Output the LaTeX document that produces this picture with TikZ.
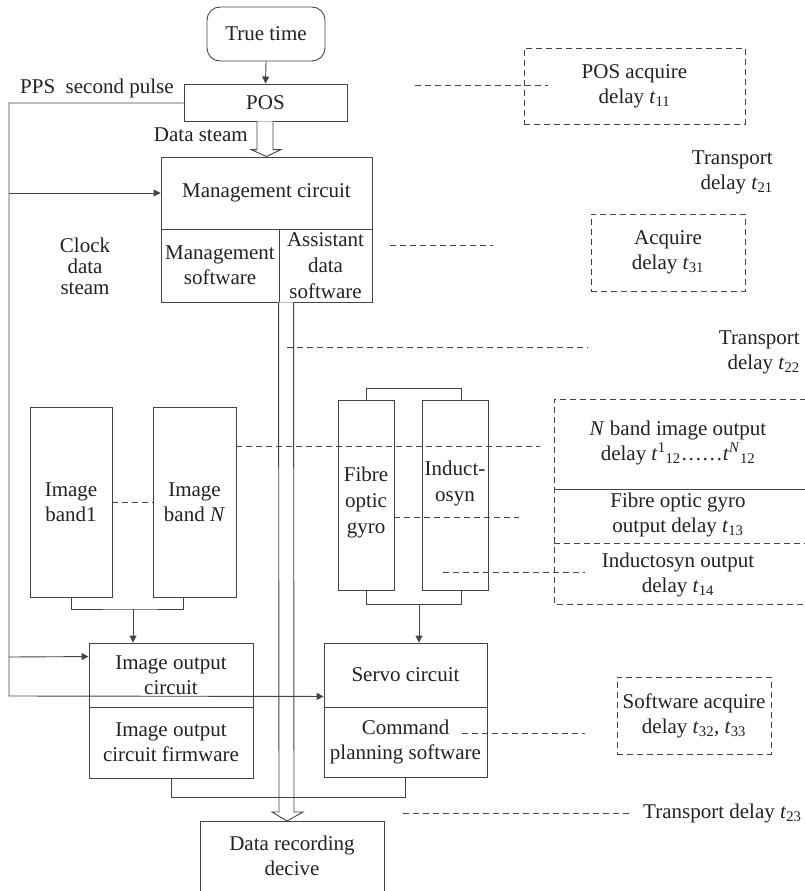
\documentclass[tikz,border=0pt]{standalone}
\usepackage{fontspec}
\setmainfont{Liberation Serif}
\usetikzlibrary{arrows.meta,calc}
\newcommand{\tdl}[1]{\textit{t}\textsubscript{#1}}
\definecolor{ln}{HTML}{444444}
\definecolor{tx}{HTML}{222222}
\begin{document}
\begin{tikzpicture}[x=1pt,y=-1pt,
  every node/.style={font=\fontsize{21}{25}\selectfont,text=tx,inner sep=0pt,align=center},
  box/.style={draw=ln,line width=0.9pt,minimum width=#1},
  dbox/.style={draw=ln,line width=0.9pt,dash pattern=on 6pt off 4pt},
  ln/.style={draw=ln,line width=0.9pt},
  dl/.style={draw=ln,line width=0.8pt,dash pattern=on 6pt off 4pt},
  arr/.style={ln,-{Triangle[length=7pt,width=7pt]}}]
\useasboundingbox (0,0) rectangle (805,891);
\fill[white] (0,0) rectangle (805,891);

% main boxes
\node[box=118pt,minimum height=54pt,rounded corners=13pt] (tt) at (266,34) {True time};
\node[box=163pt,minimum height=37pt] (pos) at (265.5,102.5) {POS};
\node[box=211pt,minimum height=72pt] (mgmtc) at (266.5,193) {Management circuit};
\node[box=118pt,minimum height=73pt] (msw) at (220,265.5) {Management\\software};
\node[box=93pt,minimum height=73pt,font=\fontsize{21}{26}\selectfont] (asw) at (325.5,265.5) {Assistant\\data\\software};

\node[box=82pt,minimum height=190pt] (band1) at (71,502) {Image\\band1};
\node[box=83pt,minimum height=190pt] (bandN) at (194.5,502) {Image\\band \textit{N}};
\node[box=56pt,minimum height=190pt] (fog) at (366,495) {};
\node[font=\fontsize{21}{26}\selectfont] (fogt) at (366,502) {Fibre\\optic\\gyro};
\node[box=66pt,minimum height=190pt] (ind) at (455,495) {};
\node[font=\fontsize{21}{26}\selectfont] (indt) at (455,483) {Induct-\\osyn};

\node[box=164pt,minimum height=64pt] (imgout) at (171,675) {Image output\\circuit};
\node[box=164pt,minimum height=71pt] (imgfw) at (171,742.5) {Image output\\circuit firmware};
\node[box=163pt,minimum height=64pt] (servo) at (405.5,675) {Servo circuit};
\node[box=163pt,minimum height=70pt] (cmd) at (405.5,742) {Command\\planning software};

% data recording device (open at bottom)
\coordinate (drtl) at (200,821);
\coordinate (drtr) at (384,821);
\draw[ln] (drtl|-0,892) -- (drtl) -- (drtr) -- (drtr|-0,892);
\node (dr) at (292,855.5) {Data recording\\decive};

% dashed annotation boxes
\node[dbox,minimum width=221pt,minimum height=76pt] (posacq) at (634.5,86) {POS acquire\\delay \tdl{11}};
\node[dbox,minimum width=154pt,minimum height=77pt] (acq) at (668,252.5) {Acquire\\delay \tdl{31}};
\node[dbox,minimum width=154pt,minimum height=77pt] (swacq) at (694,715.5) {Software acquire\\delay \tdl{32}, \tdl{33}};

% right big box
\coordinate (rb1) at (554,399);
\coordinate (rb2) at (554,604);
\draw[dbox] (806,399) -- (rb1) -- (rb2) -- (806,604);
\draw[ln] (rb1|-0,489) -- (806,489);
\draw[dl] (rb1|-0,543) -- (806,543);
\node (nb) at (678,442.5) {\textit{N} band image output\\delay \textit{t}\textsuperscript{1}\textsubscript{12}\ldots\ldots\textit{t}\textsuperscript{\textit{N}}\textsubscript{12}};
\node (fogd) at (678,514.5) {Fibre optic gyro\\output delay \tdl{13}};
\node (indd) at (678,575) {Inductosyn output\\delay \tdl{14}};

% transport labels
\node[anchor=east,align=right] (tr21) at (773,172) {Transport\\delay \tdl{21}};
\node[anchor=east,align=right] (tr22) at (800,352) {Transport\\delay \tdl{22}};
\node[anchor=west] (tr23) at (643,813) {Transport delay \tdl{23}};

% other labels
\node[anchor=west] (pps) at (20,88) {PPS\ \ second pulse};
\node[anchor=east] (ds) at (248,135) {Data steam};
\node[font=\fontsize{21}{21}\selectfont] (clk) at (85,266) {Clock\\data\\steam};

% true time -> POS
\draw[arr] (tt.south) -- (pos.north);

% data stream hollow arrow POS -> management
\draw[ln,fill=white] ($(pos.south)+(-8.5,0)$) -- ($(mgmtc.north)+(-9.5,-7)$) -- ($(mgmtc.north)+(-15.5,-7)$) -- (mgmtc.north) -- ($(mgmtc.north)+(14.5,-7)$) -- ($(mgmtc.north)+(6.5,-7)$) -- ($(pos.south)+(7.5,0)$);

% hollow bus from assistant software down to data recording
\coordinate (bt) at (287,821);
\draw[ln,fill=white] (asw.south west) -- ($(bt)+(-8,-9)$) -- ($(bt)+(-15,-9)$) -- (bt) -- ($(bt)+(16,-9)$) -- ($(bt)+(7,-9)$) -- ($(asw.south west)+(15,0)$);

% clock line
\coordinate (cl) at (9,103);
\draw[ln] (pos.west|-cl) -- (cl) -- (9,696) -- ($(servo.south west)+(-6,-11)$);
\draw[arr] ($(servo.south west)+(-6,-11)$) -- ($(servo.south west)+(0,-11)$);
\draw[arr] (9,193) -- (mgmtc.west);
\draw[arr] (9,657) -- ($(imgout.north west)+(0,14)$);

% image bands -> image output
\coordinate (bj) at (133,609);
\draw[ln] (band1.south) |- (bj) -| ($(bandN.south)+(-11.5,0)$);
\draw[arr] (bj) -- (bj|-imgout.north);

% gyro / inductosyn
\draw[ln] (fog.north) -- ++(0,-11) -| ($(ind.north)+(6,0)$);
\draw[ln] (fog.south) -- ++(0,14) -| ($(ind.south)+(6,0)$);
\coordinate (gj) at (419,604);
\draw[arr] (gj) -- (gj|-servo.north);

% firmware / command -> bottom
\draw[ln] (imgfw.south) -- ++(0,19) -| (cmd.south);

% dashed leaders
\draw[dl] (415,85) -- (548,85);
\draw[dl] (390,245) -- (493,245);
\draw[dl] (287,347) -- (588,347);
\draw[dl] (band1.east|-0,502) -- (bandN.west|-0,502);
\draw[dl] (bandN.east|-0,446) -- (540,446);
\draw[dl] (fog.east|-0,517) -- (519,517);
\draw[dl] (443,572) -- (585,572);
\draw[dl] (462,733) -- (585,733);
\draw[dl] (403,813) -- (630,813);
\end{tikzpicture}
\end{document}
